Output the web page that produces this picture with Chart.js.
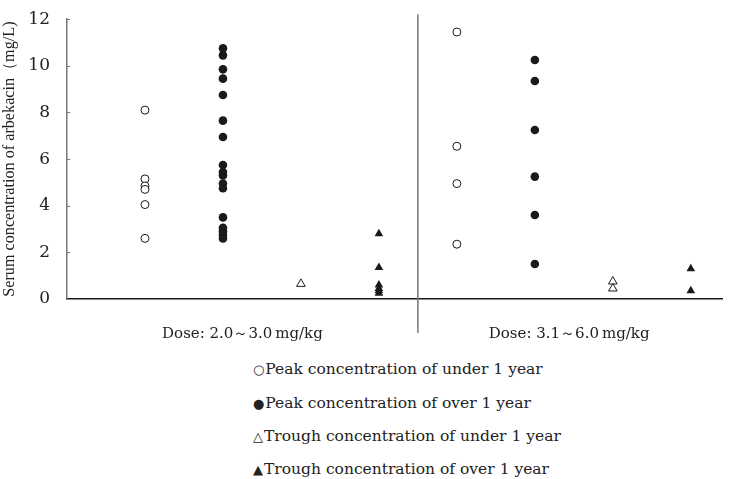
<!DOCTYPE html>
<html>
<head>
<meta charset="utf-8">
<script src="https://cdn.jsdelivr.net/npm/chart.js@4.4.0/dist/chart.umd.min.js"></script>
<style>
    body { margin: 0; background: #fff; }
    #wrap { position: relative; width: 750px; height: 479px; }
    #chart { position: absolute; left: 0; top: 0; }
    .key { position: absolute; left: 253px; font: 15.5px "DejaVu Serif", serif; color: #222; white-space: nowrap; line-height: 20px; }
    .key span { font: 13px "DejaVu Sans", sans-serif; margin-right: 1px; }
</style>
</head>
<body>
<div id="wrap">
    <canvas id="chart" width="750" height="345"></canvas>
    <div class="key" style="top:359px"><span>○</span>Peak concentration of under 1 year</div>
    <div class="key" style="top:393px"><span>●</span>Peak concentration of over 1 year</div>
    <div class="key" style="top:426px"><span>△</span>Trough concentration of under 1 year</div>
    <div class="key" style="top:459px"><span>▲</span>Trough concentration of over 1 year</div>
</div>
<script>
// dose groups on the x axis
var doseGroups = ['Dose: 2.0\uFF5E3.0\u2009mg/kg', 'Dose: 3.1\uFF5E6.0\u2009mg/kg'];
var yTicks = [0, 2, 4, 6, 8, 10, 12];

// values per dose group (mg/L)
var peakUnder1 = [
    [8.1, 5.15, 4.85, 4.7, 4.05, 2.6],
    [11.45, 6.55, 4.95, 2.35]
];
var peakOver1 = [
    [10.75, 10.45, 9.85, 9.45, 8.75, 7.65, 6.95, 5.75, 5.45, 5.3, 4.95, 4.75, 3.5, 3.05, 2.9, 2.75, 2.6],
    [10.25, 9.35, 7.25, 5.25, 3.6, 1.5]
];
var troughUnder1 = [
    [0.65],
    [0.75, 0.45]
];
var troughOver1 = [
    [2.8, 1.35, 0.6, 0.45, 0.35, 0.25],
    [1.3, 0.35]
];

// each series sits in its own column, 4 columns per dose group
function toPoints(series, col) {
    var pts = [];
    series.forEach(function (vals, g) {
        vals.forEach(function (v) {
            pts.push({x: g * 4 + col, y: v});
        });
    });
    return pts;
}

var ink = '#1a1a1a';

// divider between dose groups and inner tick marks on the y axis
var extras = {
    id: 'extras',
    afterDraw: function (chart) {
        var ctx = chart.ctx, xs = chart.scales.x, ys = chart.scales.y;
        var a = chart.chartArea;
        ctx.save();
        ctx.strokeStyle = '#777';
        ctx.lineWidth = 1.5;
        var dx = xs.getPixelForValue(4.5);
        ctx.beginPath();
        ctx.moveTo(dx, a.top - 5);
        ctx.lineTo(dx, a.bottom + 34);
        ctx.stroke();
        ctx.lineWidth = 1;
        yTicks.forEach(function (t) {
            if (t === 0) return;
            var py = Math.round(ys.getPixelForValue(t)) + 0.5;
            ctx.beginPath();
            ctx.moveTo(a.left, py);
            ctx.lineTo(a.left + 3, py);
            ctx.stroke();
        });
        ctx.restore();
    }
};

new Chart(document.getElementById('chart').getContext('2d'), {
    type: 'scatter',
    data: {
        datasets: [{
            label: 'Peak concentration of under 1 year',
            data: toPoints(peakUnder1, 1),
            pointStyle: 'circle',
            pointRadius: 4,
            backgroundColor: '#fff',
            borderColor: ink,
            borderWidth: 1
        }, {
            label: 'Peak concentration of over 1 year',
            data: toPoints(peakOver1, 2),
            pointStyle: 'circle',
            pointRadius: 4.3,
            backgroundColor: ink,
            borderColor: ink,
            borderWidth: 0
        }, {
            label: 'Trough concentration of under 1 year',
            data: toPoints(troughUnder1, 3),
            pointStyle: 'triangle',
            pointRadius: 5,
            backgroundColor: '#fff',
            borderColor: ink,
            borderWidth: 1
        }, {
            label: 'Trough concentration of over 1 year',
            data: toPoints(troughOver1, 4),
            pointStyle: 'triangle',
            pointRadius: 5,
            backgroundColor: ink,
            borderColor: ink,
            borderWidth: 0
        }]
    },
    options: {
        responsive: false,
        animation: false,
        events: [],
        layout: {padding: {top: 17, right: 28, left: 0, bottom: 0}},
        plugins: {legend: {display: false}, tooltip: {enabled: false}},
        scales: {
            x: {
                type: 'linear',
                min: 0,
                max: 8.4,
                grid: {display: false},
                border: {color: ink, width: 1.5},
                afterBuildTicks: function (scale) {
                    scale.ticks = [{value: 2.25}, {value: 6.44}];
                },
                afterFit: function (scale) { scale.height = 46; },
                ticks: {
                    padding: 18,
                    color: '#222',
                    font: {family: '"DejaVu Serif", serif', size: 15},
                    callback: function (v, i) { return doseGroups[i]; }
                }
            },
            y: {
                min: 0,
                max: 12,
                grid: {display: false},
                border: {color: '#777', width: 1.5},
                afterBuildTicks: function (scale) {
                    scale.ticks = yTicks.map(function (t) { return {value: t}; });
                },
                afterFit: function (scale) { scale.width = 67; },
                title: {
                    display: true,
                    text: 'Serum concentration of arbekacin\uFF08mg/L)',
                    color: '#222',
                    padding: {top: 0, bottom: 1},
                    font: {family: '"Liberation Serif", serif', size: 16.2}
                },
                ticks: {
                    padding: 9,
                    color: '#222',
                    font: {family: '"DejaVu Serif", serif', size: 17}
                }
            }
        }
    },
    plugins: [extras]
});
</script>
</body>
</html>
